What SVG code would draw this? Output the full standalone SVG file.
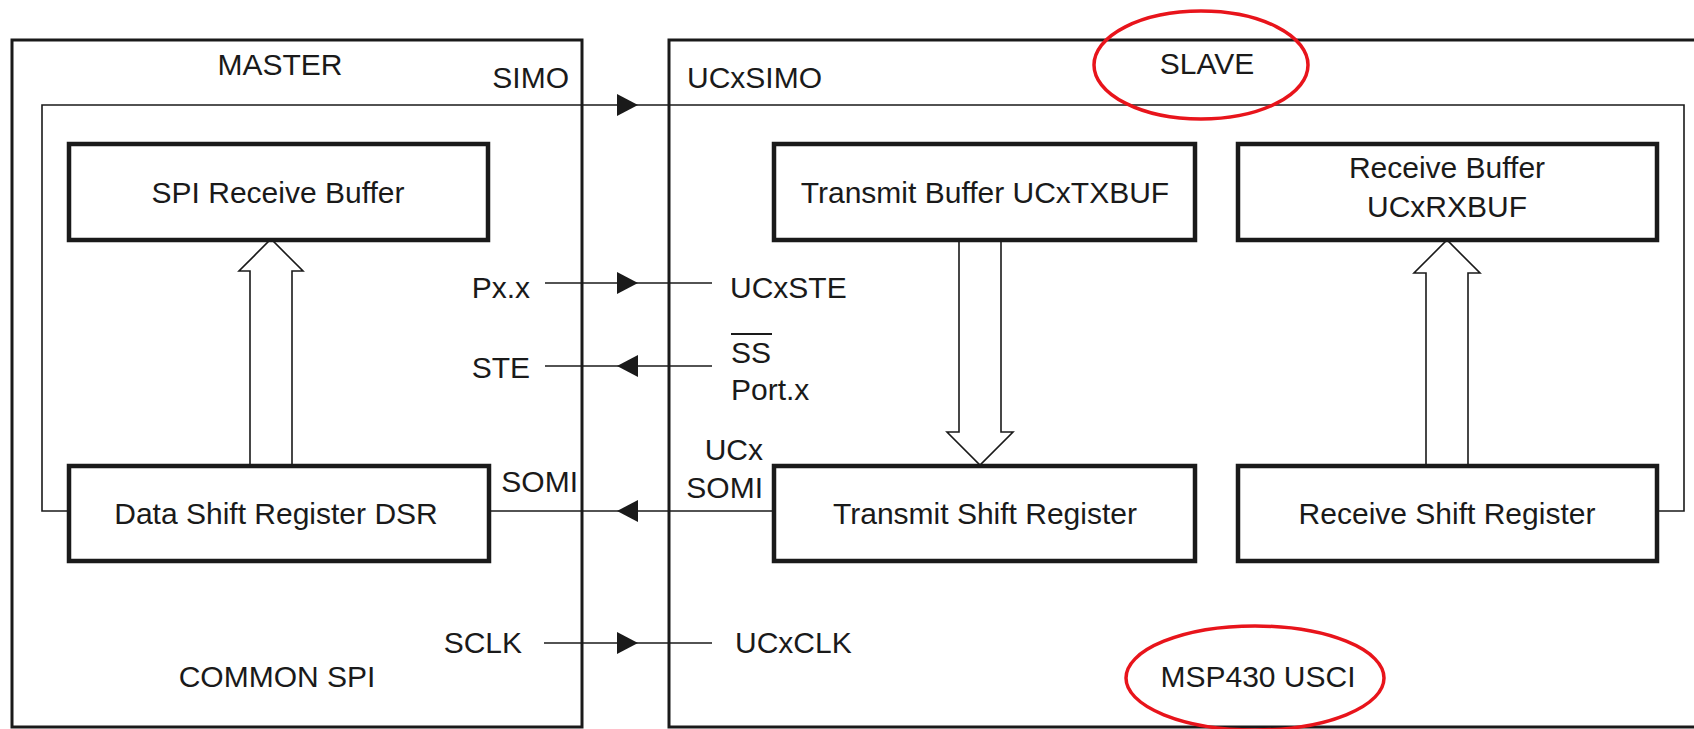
<svg xmlns="http://www.w3.org/2000/svg" xmlns:xlink="http://www.w3.org/1999/xlink" width="1694" height="729" viewBox="0 0 1694 729">
<style>
text{font-family:"Liberation Sans",Arial,Helvetica,sans-serif;font-size:30px;fill:#1a1a1a}
.outer{fill:none;stroke:#1a1a1a;stroke-width:3}
.box{fill:#fff;stroke:#1a1a1a;stroke-width:4.5}
.ln{fill:none;stroke:#1a1a1a;stroke-width:1.6}
.hollow{fill:#fff;stroke:#1a1a1a;stroke-width:1.6;stroke-linejoin:miter}
.ring{fill:none;stroke:#e8141b;stroke-width:3.5}
.m{text-anchor:middle}
.e{text-anchor:end}
</style>
<defs>
<path id="ah" d="M0,0 L-21,-11 L-21,11 Z" fill="#1a1a1a"/>
</defs>
<rect width="1694" height="729" fill="#fff"/>

<g id="master">
<rect class="outer" x="12" y="40" width="570" height="687"/>
<text class="m" x="280" y="75">MASTER</text>
<text class="m" x="277" y="687">COMMON SPI</text>
</g>
<g id="slave">
<rect class="outer" x="669" y="40" width="1040" height="687"/>
<text class="m" x="1207" y="74">SLAVE</text>
<text class="m" x="1258" y="687">MSP430 USCI</text>
</g>

<g id="connectors">
<polyline class="ln" points="69,511 42,511 42,105 1684,105 1684,511 1657,511"/>
<line class="ln" x1="545" y1="283" x2="712" y2="283"/>
<line class="ln" x1="545" y1="366" x2="712" y2="366"/>
<line class="ln" x1="489" y1="511" x2="774" y2="511"/>
<line class="ln" x1="544" y1="643" x2="712" y2="643"/>
<use xlink:href="#ah" transform="translate(638,105)"/>
<use xlink:href="#ah" transform="translate(638,283)"/>
<use xlink:href="#ah" transform="translate(617,366) rotate(180)"/>
<use xlink:href="#ah" transform="translate(617,511) rotate(180)"/>
<use xlink:href="#ah" transform="translate(638,643)"/>
<polygon class="hollow" points="250,466 250,271 239,271 271,239 303,271 292,271 292,466"/>
<polygon class="hollow" points="959,240 959,432 947,432 980,465 1013,432 1001,432 1001,240"/>
<polygon class="hollow" points="1426,466 1426,273 1414,273 1447,240 1480,273 1468,273 1468,466"/>
</g>

<g id="labels">
<text class="e" x="569" y="88">SIMO</text>
<text x="687" y="88">UCxSIMO</text>
<text class="e" x="530" y="298">Px.x</text>
<text x="730" y="298">UCxSTE</text>
<text class="e" x="530" y="378">STE</text>
<text x="731" y="363">SS</text>
<line x1="731" y1="334" x2="772" y2="334" stroke="#1a1a1a" stroke-width="2"/>
<text x="731" y="400">Port.x</text>
<text class="e" x="578" y="492">SOMI</text>
<text class="e" x="763" y="460">UCx</text>
<text class="e" x="763" y="498">SOMI</text>
<text class="e" x="522" y="653">SCLK</text>
<text x="735" y="653">UCxCLK</text>
</g>

<g id="spi-rx-buf">
<rect class="box" x="69" y="144" width="419" height="96"/>
<text class="m" x="278" y="203">SPI Receive Buffer</text>
</g>
<g id="dsr">
<rect class="box" x="69" y="466" width="420" height="95"/>
<text class="m" x="276" y="524">Data Shift Register DSR</text>
</g>
<g id="tx-buf">
<rect class="box" x="774" y="144" width="421" height="96"/>
<text class="m" x="985" y="203">Transmit Buffer UCxTXBUF</text>
</g>
<g id="rx-buf">
<rect class="box" x="1238" y="144" width="419" height="96"/>
<text class="m" x="1447" y="178">Receive Buffer</text>
<text class="m" x="1447" y="217">UCxRXBUF</text>
</g>
<g id="tx-shift">
<rect class="box" x="774" y="466" width="421" height="95"/>
<text class="m" x="985" y="524">Transmit Shift Register</text>
</g>
<g id="rx-shift">
<rect class="box" x="1238" y="466" width="419" height="95"/>
<text class="m" x="1447" y="524">Receive Shift Register</text>
</g>

<g id="highlights">
<ellipse class="ring" cx="1201" cy="65" rx="107" ry="54"/>
<ellipse class="ring" cx="1255" cy="678" rx="129" ry="52"/>
</g>
</svg>
